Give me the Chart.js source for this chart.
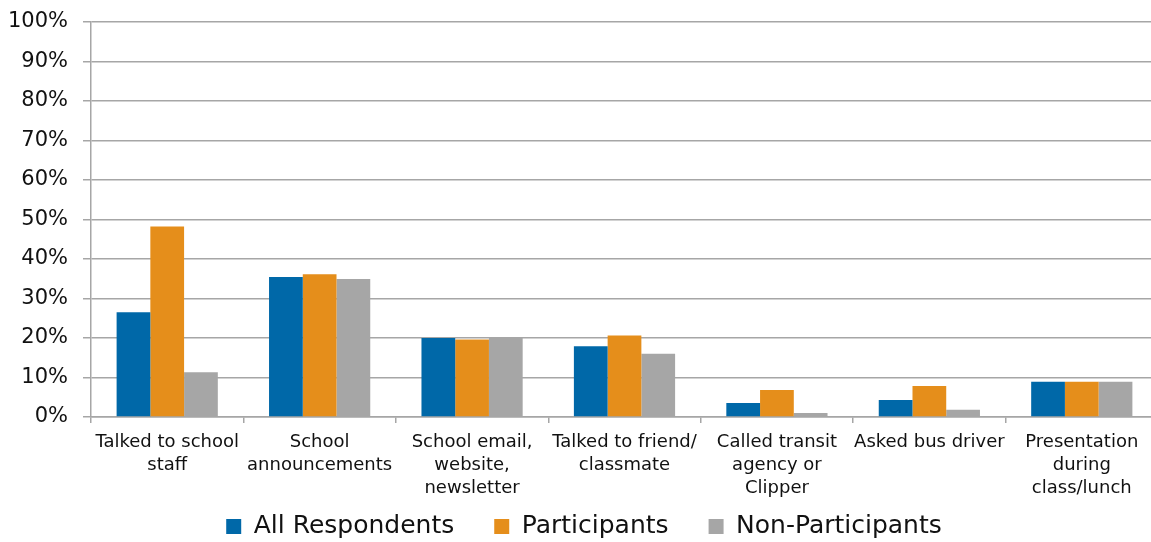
<!DOCTYPE html>
<html>
<head>
<meta charset="utf-8">
<script src="https://cdn.jsdelivr.net/npm/chart.js@4"></script>
<style>
  html, body { margin: 0; padding: 0; background: #fff; overflow: hidden; }
  /* plot runs slightly past the right edge of the page */
  #wrap { width: 1158px; height: 542px; position: relative; }
</style>
</head>
<body>
<div id="wrap"><canvas id="chart"></canvas></div>
<script>
const categories = [
    ['Talked to school', 'staff'],
    ['School', 'announcements'],
    ['School email,', 'website,', 'newsletter'],
    ['Talked to friend/', 'classmate'],
    ['Called transit', 'agency or', 'Clipper'],
    ['Asked bus driver'],
    ['Presentation', 'during', 'class/lunch']
]
const allRespondents = [26.5, 35.4, 20.0, 17.9, 3.5, 4.3, 8.9]
const participants = [48.2, 36.1, 19.6, 20.6, 6.8, 7.8, 8.9]
const nonParticipants = [11.3, 34.9, 20.0, 16.0, 1.0, 1.8, 8.9]
const yTicks = [0, 10, 20, 30, 40, 50, 60, 70, 80, 90, 100]

const gridColor = '#a6a6a6'
const font = 'DejaVu Sans'

// legend keeps its wide item gap (padding) but only reserves a short strip,
// so move it up into that strip after layout
const legendLift = {
    id: 'legendLift',
    afterLayout(chart) {
        const l = chart.legend
        l.top = 474
        l.bottom = chart.height
        l.left += 5
        l.right += 5
    }
}

new Chart(document.querySelector('#chart'), {
    type: 'bar',
    data: {
        labels: categories,
        datasets: [
            { label: 'All Respondents', data: allRespondents, backgroundColor: '#0068a8' },
            { label: 'Participants', data: participants, backgroundColor: '#e58e1b' },
            { label: 'Non-Participants', data: nonParticipants, backgroundColor: '#a6a6a6' }
        ]
    },
    plugins: [legendLift],
    options: {
        responsive: true,
        maintainAspectRatio: false,
        animation: false,
        layout: { padding: { top: 22, right: 0, left: 0, bottom: 4 } },
        datasets: {
            bar: { categoryPercentage: 0.664, barPercentage: 1.0 }
        },
        scales: {
            x: {
                afterFit: axis => {
                    axis.paddingLeft = 0
                    axis.paddingRight = 0
                },
                grid: {
                    offset: true,
                    drawOnChartArea: false,
                    tickLength: 6,
                    color: gridColor,
                    lineWidth: 1.5
                },
                border: { color: gridColor, width: 1.5 },
                ticks: {
                    color: '#111',
                    font: { family: font, size: 18, lineHeight: 1.28 },
                    padding: 8,
                    maxRotation: 0,
                    autoSkip: false
                }
            },
            y: {
                min: 0,
                max: 100,
                afterBuildTicks: axis => {
                    axis.ticks = yTicks.map(v => ({ value: v }))
                },
                afterFit: axis => {
                    axis.width = 91
                    axis.paddingTop = 0
                    axis.paddingBottom = 0
                },
                ticks: {
                    color: '#111',
                    font: { family: font, size: 21 },
                    padding: 15,
                    callback: v => v + '%'
                },
                grid: {
                    color: gridColor,
                    lineWidth: 1.5,
                    tickLength: 8
                },
                border: { color: gridColor, width: 1.5 }
            }
        },
        plugins: {
            legend: {
                position: 'bottom',
                maxHeight: 30,
                labels: {
                    color: '#111',
                    font: { family: font, size: 25 },
                    boxWidth: 15,
                    boxHeight: 15,
                    padding: 40
                }
            },
            tooltip: { enabled: false }
        }
    }
})
</script>
</body>
</html>
